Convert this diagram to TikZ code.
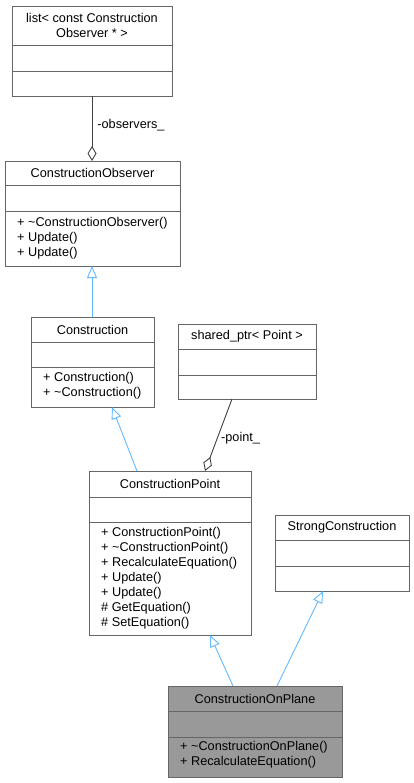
\documentclass[tikz,border=0pt]{standalone}
\usepackage{fontspec}
\setmainfont{Liberation Sans}
\usetikzlibrary{arrows.meta}
\definecolor{bord}{HTML}{666666}
\definecolor{hl}{HTML}{999999}
\definecolor{inh}{HTML}{63B8FF}
\definecolor{usec}{HTML}{404040}
\tikzset{
 cls/.style={draw=bord, line width=0.9pt, inner sep=0pt, outer sep=0pt, anchor=north west},
 sepline/.style={draw=bord, line width=0.9pt},
 hdr/.style={font=\fontsize{12.7}{15}\selectfont, align=center, inner sep=0pt},
 mem/.style={font=\fontsize{12.7}{15}\selectfont, align=left, inner sep=0pt, anchor=west},
 inherit/.style={draw=inh, line width=0.9pt, -{Triangle[open, length=12pt, width=10pt]}},
 assoc/.style={draw=usec, line width=0.9pt, -{Diamond[open, length=15pt, width=9pt]}},
 elabel/.style={font=\fontsize{12.7}{15}\selectfont, inner sep=0pt, anchor=west},
}
\newcommand\umlclass[8][white]{%
 \node[cls, fill=#1, minimum width={(#5-#3)*1pt}, minimum height={(#6-#4)*1pt}] (#2) at (#3,#4) {};
 \draw[sepline] (#3,#7) -- (#5,#7);
 \draw[sepline] (#3,#8) -- (#5,#8);
}
\begin{document}
\begin{tikzpicture}[x=1pt, y=-1pt]
\useasboundingbox (0,0) rectangle (414,783);
% classes
\umlclass{lst}{12}{6}{172}{96}{45}{71}
\node[hdr] (lst-h) at (92,25.5) {list< const Construction\\Observer * >};

\umlclass{obs}{5}{161}{180}{266}{185}{211}
\node[hdr] (obs-h) at (92.5,173) {ConstructionObserver};
\node[mem] (obs-m) at (17,238.5) {+ \textasciitilde ConstructionObserver()\\+ Update()\\+ Update()};

\umlclass{con}{31}{317}{154}{407}{342}{367}
\node[hdr] (con-h) at (92.5,329.5) {Construction};
\node[mem] (con-m) at (43,386) {+ Construction()\\+ \textasciitilde Construction()};

\umlclass{sp}{178}{324}{316}{399}{349}{375}
\node[hdr] (sp-h) at (247,336.5) {shared\_ptr< Point >};

\umlclass{cp}{89}{471}{251}{635}{497}{522}
\node[hdr] (cp-h) at (170,484) {ConstructionPoint};
\node[mem] (cp-m) at (101,578) {+ ConstructionPoint()\\+ \textasciitilde ConstructionPoint()\\+ RecalculateEquation()\\+ Update()\\+ Update()\\\# GetEquation()\\\# SetEquation()};

\umlclass{sc}{275}{515}{409}{591}{540}{566}
\node[hdr] (sc-h) at (342,527.5) {StrongConstruction};

\umlclass[hl]{cop}{168}{686}{342}{777}{711}{737}
\node[hdr] (cop-h) at (255,698.5) {ConstructionOnPlane};
\node[mem] (cop-m) at (180,755) {+ \textasciitilde ConstructionOnPlane()\\+ RecalculateEquation()};

% connectors
\draw[assoc] ([xshift=80pt]lst.south west) -- ([xshift=87pt]obs.north west)
  node[elabel, pos=0.45, xshift=5pt] (lbl-obs) {-observers\_};
\draw[inherit] ([xshift=61pt]con.north west) -- ([xshift=87pt]obs.south west);
\draw[assoc] ([xshift=54pt]sp.south west) -- ([xshift=116pt]cp.north west);
\node[elabel] (lbl-pt) at (221,438) {-point\_};
\draw[inherit] ([xshift=48pt]cp.north west) -- ([xshift=81pt]con.south west);
\draw[inherit] ([xshift=65pt]cop.north west) -- ([xshift=121pt]cp.south west);
\draw[inherit] ([xshift=109pt]cop.north west) -- ([xshift=48pt]sc.south west);
\end{tikzpicture}
\end{document}
